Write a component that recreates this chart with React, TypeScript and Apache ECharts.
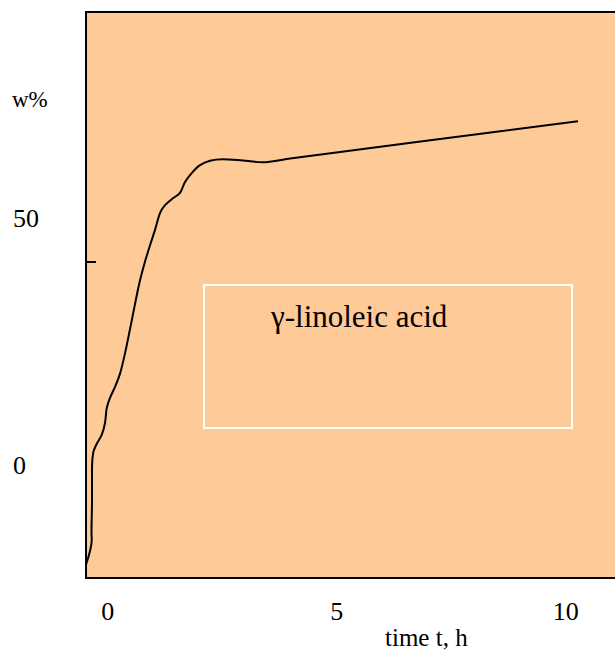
import React, { useEffect, useRef } from "react";
import * as echarts from "echarts";

// time t, h
const timeValues = [
  -0.474, -0.349, -0.354, -0.343, -0.343, -0.314, -0.255, -0.131, -0.059, -0.022,
  0.05, 0.159, 0.269, 0.378, 0.487, 0.618, 0.706, 0.815, 0.924, 1.033,
  1.142, 1.251, 1.397, 1.579, 1.688, 1.834, 2.015, 2.234, 2.517, 2.889,
  3.369, 3.985, 10.268,
];
// w%
const wValues = [
  -20.2, -15.2, -13.6, -7.1, -0.4, 2.6, 4.0, 6.1, 8.5, 11.5,
  13.6, 15.8, 18.5, 22.6, 27.5, 33.6, 37.4, 41.2, 44.5, 47.6,
  51.0, 52.6, 53.8, 55.1, 57.3, 59.1, 60.7, 61.6, 61.9, 61.7,
  61.3, 62.05, 69.6,
];
const xTickLabels = [0, 5, 10];
const yTickLabels = [0, 50];
const yTickMarks = [41.1];
const seriesName = "γ-linoleic acid";
const yTitle = "w%";
const xTitle = "time t, h";

const FONT = "'Liberation Serif', 'Times New Roman', serif";

export default function App() {
  const ref = useRef<HTMLDivElement>(null);
  useEffect(() => {
    if (!ref.current) return;
    const chart = echarts.init(ref.current, null, { renderer: "svg" });
    const data = timeValues.map((t, i) => [t, wValues[i]]);
    chart.setOption({
      animation: false,
      textStyle: { fontFamily: FONT },
      grid: {
        left: 86,
        right: 0,
        top: 12,
        bottom: 75,
        show: true,
        backgroundColor: "#FECA98",
        borderWidth: 0,
      },
      xAxis: [
        {
          type: "value",
          min: -0.474,
          max: 11.077,
          position: "bottom",
          axisLine: { show: true, onZero: false, lineStyle: { color: "#000", width: 2 } },
          axisTick: { show: false },
          splitLine: { show: false },
          axisLabel: {
            customValues: xTickLabels,
            color: "#000",
            fontFamily: FONT,
            fontSize: 26,
            margin: 20,
          },
        },
        {
          type: "value",
          min: -0.474,
          max: 11.077,
          position: "top",
          axisLine: { show: true, onZero: false, lineStyle: { color: "#000", width: 2 } },
          axisTick: { show: false },
          splitLine: { show: false },
          axisLabel: { show: false },
        },
      ],
      yAxis: {
        type: "value",
        min: -22.87,
        max: 91.7,
        axisLine: { show: true, onZero: false, lineStyle: { color: "#000", width: 2 } },
        axisTick: {
          show: true,
          inside: true,
          length: 10,
          customValues: yTickMarks,
          lineStyle: { color: "#000", width: 2 },
        },
        splitLine: { show: false },
        axisLabel: {
          customValues: yTickLabels,
          color: "#000",
          fontFamily: FONT,
          fontSize: 26,
          align: "left",
          margin: 73,
        },
      },
      series: [
        {
          name: seriesName,
          type: "line",
          data,
          smooth: 0.3,
          showSymbol: false,
          lineStyle: { color: "#000", width: 2 },
        },
      ],
      graphic: [
        {
          type: "rect",
          shape: { x: 204, y: 285, width: 368, height: 143 },
          style: { fill: "none", stroke: "#fff", lineWidth: 2 },
          z: 10,
        },
        {
          type: "text",
          x: 271,
          y: 316,
          style: {
            text: seriesName,
            fill: "#000",
            font: `31px ${FONT}`,
            verticalAlign: "middle",
            align: "left",
          },
          z: 10,
        },
        {
          type: "text",
          x: 12,
          y: 99,
          style: {
            text: yTitle,
            fill: "#000",
            font: `23px ${FONT}`,
            verticalAlign: "middle",
            align: "left",
          },
          z: 10,
        },
        {
          type: "text",
          x: 385,
          y: 637,
          style: {
            text: xTitle,
            fill: "#000",
            font: `25px ${FONT}`,
            verticalAlign: "middle",
            align: "left",
          },
          z: 10,
        },
      ],
    });
    return () => chart.dispose();
  }, []);
  return (
    <div
      ref={ref}
      style={{ position: "absolute", left: 0, top: 0, width: 615, height: 653 }}
    />
  );
}
